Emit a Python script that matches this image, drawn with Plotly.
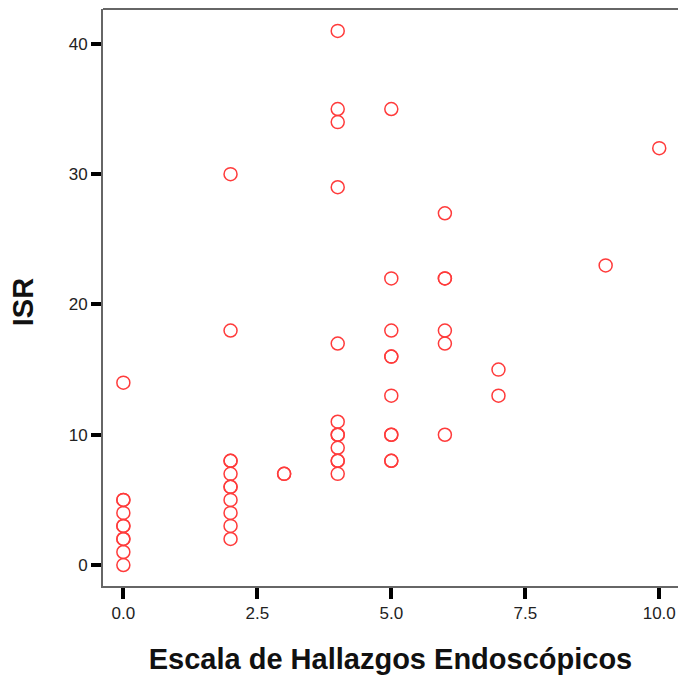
import plotly.graph_objects as go

escala = [0, 0, 0, 0, 0, 0, 0, 0, 0, 0,
          2, 2, 2, 2, 2, 2, 2, 2, 2, 2, 2,
          3, 3,
          4, 4, 4, 4, 4, 4, 4, 4, 4, 4, 4, 4,
          5, 5, 5, 5, 5, 5, 5, 5, 5, 5,
          6, 6, 6, 6, 6, 6,
          7, 7,
          9,
          10]
isr = [14, 5, 5, 4, 3, 3, 2, 2, 1, 0,
       30, 18, 8, 8, 7, 6, 6, 5, 4, 3, 2,
       7, 7,
       41, 35, 34, 29, 17, 11, 10, 10, 9, 8, 8, 7,
       35, 22, 18, 16, 16, 13, 10, 10, 8, 8,
       27, 22, 22, 18, 17, 10,
       15, 13,
       23,
       32]

x_ticks = [0, 2.5, 5, 7.5, 10]
x_tick_labels = ["0.0", "2.5", "5.0", "7.5", "10.0"]
y_ticks = [0, 10, 20, 30, 40]
y_tick_labels = ["0", "10", "20", "30", "40"]

fig = go.Figure()
fig.add_trace(go.Scatter(
    x=escala, y=isr, mode="markers",
    marker=dict(symbol="circle-open", size=13, color="#ff3b3b",
                line=dict(width=1.5, color="#ff3b3b")),
    showlegend=False, cliponaxis=False,
))

font_family = "Liberation Sans, Arial, sans-serif"
fig.update_layout(
    width=678, height=677,
    margin=dict(l=103, r=0, t=9, b=91),
    paper_bgcolor="white", plot_bgcolor="white",
    font=dict(family=font_family, color="#000000"),
    xaxis=dict(
        range=[-0.38, 10.35], tickvals=x_ticks, ticktext=x_tick_labels,
        showgrid=False, zeroline=False,
        showline=True, linecolor="#666666", linewidth=2,
        ticks="outside", ticklen=11, tickwidth=4, tickcolor="#000000",
        tickfont=dict(size=17, family=font_family, color="#222222"),
        title=dict(text="<b>Escala de Hallazgos Endoscópicos</b>",
                   font=dict(size=29, family=font_family, color="#111111"),
                   standoff=26),
    ),
    yaxis=dict(
        range=[-1.61, 42.68], tickvals=y_ticks, ticktext=y_tick_labels,
        showgrid=False, zeroline=False,
        showline=True, linecolor="#666666", linewidth=2,
        ticks="outside", ticklen=10, tickwidth=4, tickcolor="#000000",
        tickfont=dict(size=17, family=font_family, color="#222222"),
    ),
    annotations=[dict(text="<b>ISR</b>", textangle=-90, showarrow=False,
                      xref="paper", yref="paper", x=-0.139, y=0.492,
                      xanchor="center", yanchor="middle",
                      font=dict(size=29, family=font_family, color="#111111"))],
    shapes=[dict(type="line", xref="paper", yref="paper", x0=0, x1=1, y0=1, y1=1,
                 line=dict(color="#666666", width=2))],
)

fig.write_html("out.html")
